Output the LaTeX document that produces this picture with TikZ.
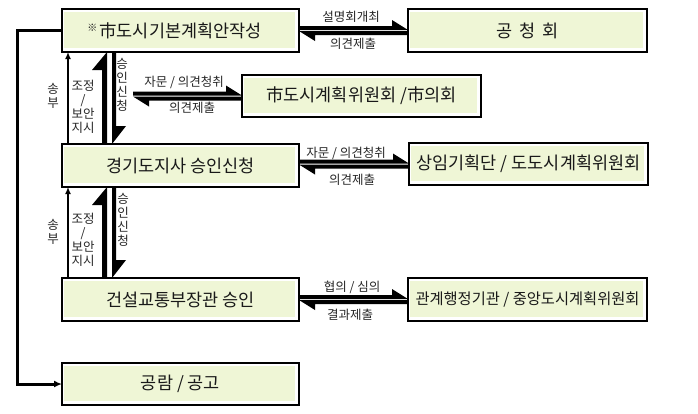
\documentclass[tikz,border=0pt]{standalone}
\usepackage{fontspec}
\setmainfont{Noto Sans CJK KR}
\usetikzlibrary{arrows.meta,calc}
\definecolor{boxfill}{RGB}{239,246,214}
\tikzset{
  box/.style={draw=black, line width=1.1pt, inner sep=0pt, outer sep=0pt,
    font=\fontsize{17.5}{19}\selectfont, text=black!90,
    path picture={\fill[boxfill] ([shift={(2pt,-3pt)}]path picture bounding box.north west) rectangle ([shift={(-4pt,4pt)}]path picture bounding box.south east);}},
  lbl/.style={font=\fontsize{12.5}{14}\selectfont, inner sep=0pt, text=black!85},
  vlbl/.style={lbl, align=center},
  thinarrow/.style={line width=2pt, -{Latex[length=7pt,width=6pt]}},
  looparrow/.style={line width=3pt, -{Latex[length=8pt,width=7pt]}},
}
% horizontal pair of half arrows: #1 left end, #2 right end (centre line = y of #2)
\newcommand\hpair[2]{%
  \fill let \p1=(#1), \p2=(#2) in
    (\x1,{\y2+4.5pt}) -- ({\x2-16pt},{\y2+4.5pt}) -- ({\x2-16pt},{\y2+10.5pt}) -- (\x2,{\y2+0.5pt}) -- (\x1,{\y2+0.5pt}) -- cycle
    (\x2,{\y2-0.5pt}) -- (\x1,{\y2-0.5pt}) -- ({\x1+16pt},{\y2-10.5pt}) -- ({\x1+16pt},{\y2-4.5pt}) -- (\x2,{\y2-4.5pt}) -- cycle;}
% vertical pair of half arrows between #1 (upper) and #2 (lower)
\newcommand\vpair[2]{%
  \fill let \p1=(#1.south west), \p2=(#2.north west) in
    ({\x1+40pt},\y2) -- ({\x1+40pt},{\y1-18pt}) -- ({\x1+30pt},{\y1-18pt}) -- ({\x1+45pt},\y1) -- ({\x1+45pt},\y2) -- cycle
    ({\x1+54pt},\y1) -- ({\x1+54pt},{\y2+18pt}) -- ({\x1+64pt},{\y2+18pt}) -- ({\x1+50pt},\y2) -- ({\x1+50pt},\y1) -- cycle;}
\begin{document}
\begin{tikzpicture}[x=1pt,y=-1pt]
\useasboundingbox (0,0) rectangle (698,413);

% boxes
\node[box, minimum width=237pt, minimum height=43pt] (A) at (180.5,30.5)
  {\llap{\raisebox{6pt}{\fontsize{10}{10}\selectfont ※}\hspace{2pt}}市도시기본계획안작성};
\node[box, minimum width=239pt, minimum height=43pt] (P) at (527.5,30.5)
  {공\hspace{7pt}청\hspace{7pt}회};
\node[box, minimum width=239pt, minimum height=42pt] (M) at (361.5,96)
  {市도시계획위원회 /市의회};
\node[box, minimum width=237pt, minimum height=43pt] (B) at (180.5,165.5)
  {경기도지사 승인신청};
\node[box, minimum width=239pt, minimum height=42pt] (S) at (528.5,164)
  {상임기획단 / 도도시계획위원회};
\node[box, minimum width=237pt, minimum height=43pt] (C) at (180.5,299.5)
  {건설교통부장관 승인};
\node[box, minimum width=239pt, minimum height=43pt, font=\fontsize{15.3}{17}\selectfont] (K) at (527.5,299.5)
  {관계행정기관 / 중앙도시계획위원회};
\node[box, minimum width=237pt, minimum height=42pt] (D) at (180.5,384)
  {공람 / 공고};

% left return line
\draw[looparrow] (A.west) -- ++(-44.5,0) |- (D.west);

% thin arrows
\draw[thinarrow] ([xshift=6pt]B.north west) -- ([xshift=6pt]A.south west);
\draw[thinarrow] ([xshift=6pt]C.north west) -- ([xshift=6pt]B.south west);

% thick half-arrow pairs
\vpair{A}{B}
\vpair{B}{C}
\coordinate (m2) at (133,96);
\hpair{A.east}{P.west}
\hpair{m2}{M.west}
\hpair{B.east}{S.west}
\hpair{C.east}{K.west}

% horizontal labels
\node[lbl] (l1a) at (351,17) {설명회개최};
\node[lbl] (l1b) at (353,44) {의견제출};
\node[lbl] (l2a) at (184,82) {자문 / 의견청취};
\node[lbl] (l2b) at (192,108) {의견제출};
\node[lbl] (l3a) at (346,153) {자문 / 의견청취};
\node[lbl] (l3b) at (352,180) {의견제출};
\node[lbl] (l4a) at (352,287) {협의 / 심의};
\node[lbl] (l4b) at (350,315) {결과제출};

% vertical labels
\node[vlbl] (v1a) at (53,96) {송\\부};
\node[vlbl] (v1b) at (83,107) {조정\\/\\보안\\지시};
\node[vlbl] (v1c) at (122,85) {승\\인\\신\\청};
\node[vlbl] (v2a) at (53,232) {송\\부};
\node[vlbl] (v2b) at (83,240) {조정\\/\\보안\\지시};
\node[vlbl] (v2c) at (123,220) {승\\인\\신\\청};
\end{tikzpicture}
\end{document}
